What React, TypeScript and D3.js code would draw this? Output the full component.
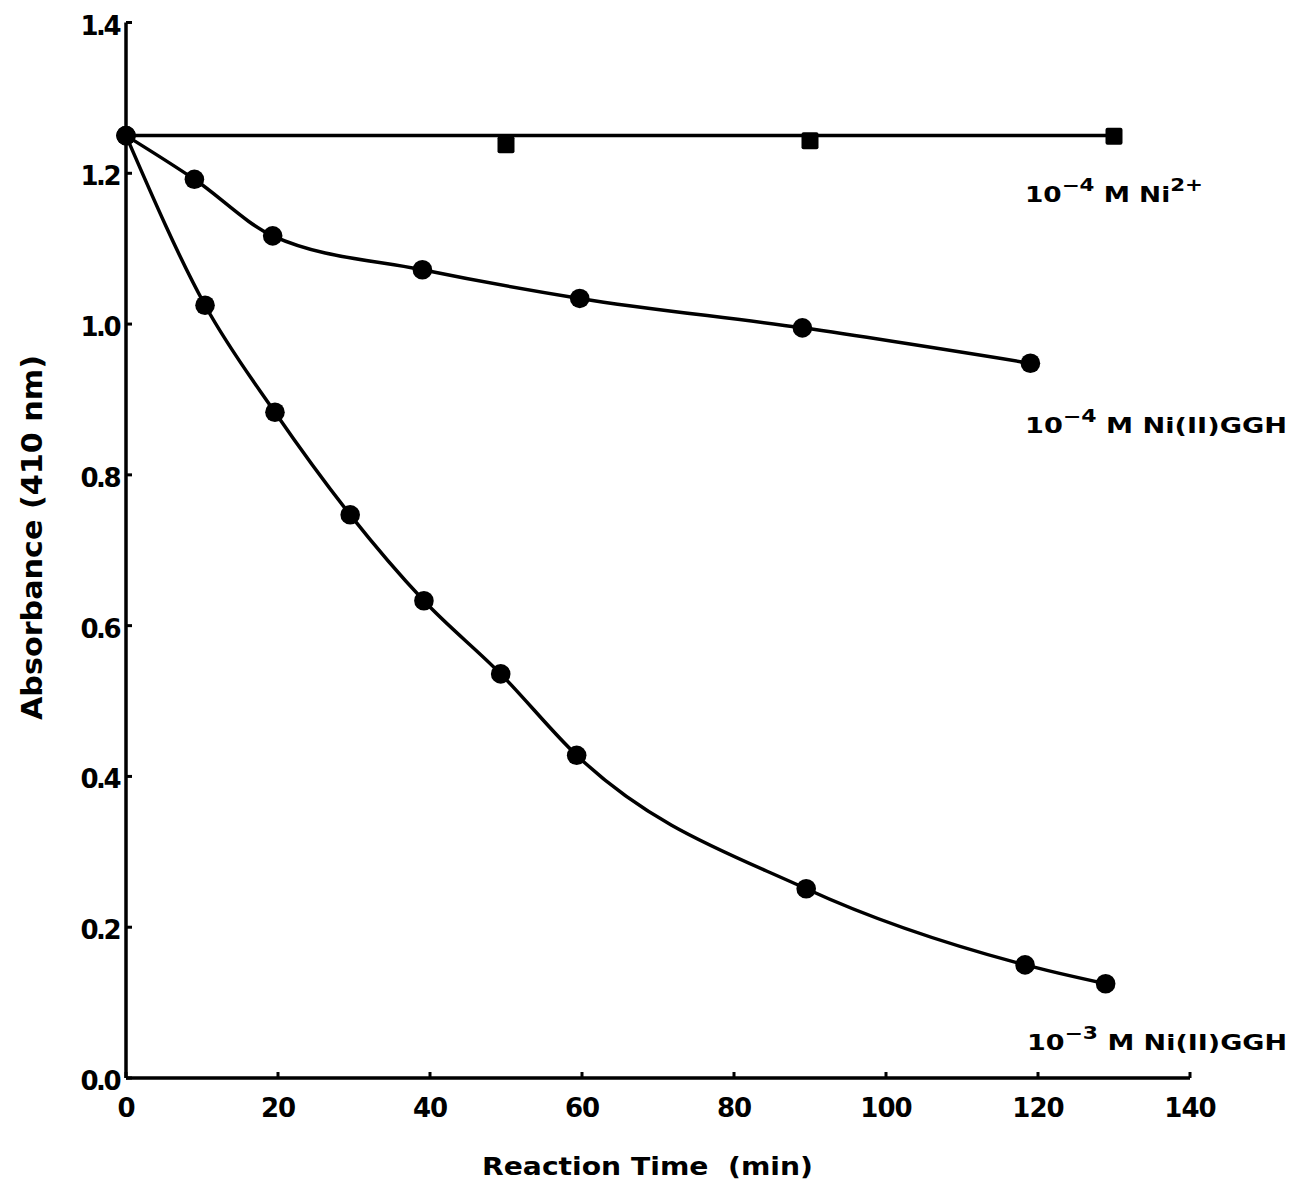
import React from "react";
import * as d3 from "d3";

const xTicks = [0, 20, 40, 60, 80, 100, 120, 140];
const yTicks = [0.0, 0.2, 0.4, 0.6, 0.8, 1.0, 1.2, 1.4];
const yTickLabels = ["0.0", "0.2", "0.4", "0.6", "0.8", "1.0", "1.2", "1.4"];

// 10^-4 M Ni2+ (squares)
const timeNi = [0, 50, 90, 130];
const absNi = [1.25, 1.238, 1.243, 1.249];
const fitNiTime = [0, 130];
const fitNiAbs = [1.25, 1.25];

// 10^-4 M Ni(II)GGH
const timeG4 = [0, 9, 19.3, 39, 59.7, 89, 119];
const absG4 = [1.25, 1.192, 1.117, 1.072, 1.034, 0.995, 0.948];

// 10^-3 M Ni(II)GGH
const timeG3 = [0, 10.4, 19.6, 29.5, 39.2, 49.3, 59.3, 89.5, 118.3, 128.9];
const absG3 = [1.25, 1.025, 0.883, 0.747, 0.633, 0.536, 0.428, 0.251, 0.15, 0.125];

const W = 1296;
const H = 1193;
const FONT = "'DejaVu Sans', 'Liberation Sans', Arial, sans-serif";

export default function App() {
  const x = d3.scaleLinear().domain([0, 140]).range([126, 1190]);
  const y = d3.scaleLinear().domain([0, 1.4]).range([1078, 22.5]);

  const zip = (xs: number[], ys: number[]) => xs.map((t, i) => [t, ys[i]] as [number, number]);
  const smooth = d3
    .line<[number, number]>()
    .x((d) => x(d[0]))
    .y((d) => y(d[1]))
    .curve(d3.curveMonotoneX);
  const straight = d3
    .line<[number, number]>()
    .x((d) => x(d[0]))
    .y((d) => y(d[1]));

  const ni = zip(timeNi, absNi);
  const g4 = zip(timeG4, absG4);
  const g3 = zip(timeG3, absG3);

  const sq = 17;
  const r = 9.8;
  const sup = { fontSize: 17 };

  return (
    <svg
      width={W}
      height={H}
      style={{ position: "absolute", left: 0, top: 0, background: "#fff" }}
      fontFamily={FONT}
      fontWeight="bold"
    >
      {/* axes */}
      <line x1={x(0)} x2={x(0)} y1={y(1.4)} y2={y(0)} stroke="#000" strokeWidth={3.5} />
      <line x1={x(0)} x2={x(140)} y1={y(0)} y2={y(0)} stroke="#000" strokeWidth={3.5} />
      {yTicks.map((t, i) => (
        <g key={"y" + i}>
          <line x1={x(0)} x2={x(0) + 6} y1={y(t)} y2={y(t)} stroke="#000" strokeWidth={3} />
          <text x={x(0) - 7} y={y(t) + 12} textAnchor="end" fontSize={26} letterSpacing={-2.5}>
            {yTickLabels[i]}
          </text>
        </g>
      ))}
      {xTicks.map((t, i) => (
        <g key={"x" + i}>
          <line x1={x(t)} x2={x(t)} y1={y(0)} y2={y(0) - 6} stroke="#000" strokeWidth={3} />
          <text x={x(t)} y={1117} textAnchor="middle" fontSize={26} letterSpacing={-1}>
            {t}
          </text>
        </g>
      ))}

      {/* axis titles */}
      <text
        x={482}
        y={1175}
        fontSize={25}
        xmlSpace="preserve"
        textLength={331}
        lengthAdjust="spacingAndGlyphs"
      >
        Reaction Time  (min)
      </text>
      <text
        transform={`translate(42,720) rotate(-90)`}
        fontSize={28}
        textLength={365}
        lengthAdjust="spacingAndGlyphs"
      >
        Absorbance (410 nm)
      </text>

      {/* curves */}
      <path d={straight(zip(fitNiTime, fitNiAbs)) || ""} fill="none" stroke="#000" strokeWidth={3.5} />
      <path d={smooth(g4) || ""} fill="none" stroke="#000" strokeWidth={3.5} />
      <path d={smooth(g3) || ""} fill="none" stroke="#000" strokeWidth={3.5} />

      {/* markers */}
      {ni.slice(1).map((d, i) => (
        <rect
          key={"s" + i}
          x={x(d[0]) - sq / 2}
          y={y(d[1]) - sq / 2}
          width={sq}
          height={sq}
          rx={2}
          fill="#000"
        />
      ))}
      {g4.map((d, i) => (
        <circle key={"a" + i} cx={x(d[0])} cy={y(d[1])} r={r} fill="#000" />
      ))}
      {g3.map((d, i) => (
        <circle key={"b" + i} cx={x(d[0])} cy={y(d[1])} r={r} fill="#000" />
      ))}

      {/* series labels */}
      <text x={1025} y={202} fontSize={21} textLength={178} lengthAdjust="spacingAndGlyphs">
        10<tspan dy={-11} {...sup}>−4</tspan>
        <tspan dy={11}> M Ni</tspan>
        <tspan dy={-11} {...sup}>2+</tspan>
      </text>
      <text x={1025} y={433} fontSize={21} textLength={262} lengthAdjust="spacingAndGlyphs">
        10<tspan dy={-11} {...sup}>−4</tspan>
        <tspan dy={11}> M Ni(II)GGH</tspan>
      </text>
      <text x={1027} y={1050} fontSize={21} textLength={260} lengthAdjust="spacingAndGlyphs">
        10<tspan dy={-11} {...sup}>−3</tspan>
        <tspan dy={11}> M Ni(II)GGH</tspan>
      </text>
    </svg>
  );
}
